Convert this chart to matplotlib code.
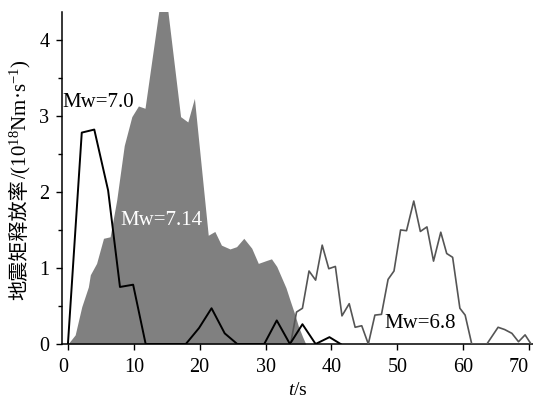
import numpy as np, matplotlib
matplotlib.use('Agg')
import matplotlib.pyplot as plt
from matplotlib.ticker import MultipleLocator

plt.rcParams['font.family'] = ['Liberation Serif', 'Noto Sans CJK SC']
plt.rcParams['mathtext.fontset'] = 'custom'
plt.rcParams['mathtext.rm'] = 'Liberation Serif'
plt.rcParams['mathtext.it'] = 'Liberation Serif:italic'

# ---- data (t in s, moment rate in 1e18 Nm/s) ----
t70 = [0, 2.1, 4.0, 6.1, 7.9, 9.9, 11.8, 17.9, 19.9, 21.8, 23.8, 25.7,
       29.8, 31.7, 33.7, 35.6, 37.6, 39.7, 41.4]
m70 = [0, 2.78, 2.82, 2.02, 0.75, 0.78, 0, 0, 0.21, 0.47, 0.14, 0,
       0, 0.31, 0, 0.26, 0, 0.09, 0]

t714 = [0, 1.1, 2.1, 3.1, 3.4, 4.35, 5.4, 6.4, 7.4, 8.55, 9.7, 10.7, 11.7,
        14.0, 15.0, 17.1, 18.2, 19.2, 21.3, 22.3, 23.3, 24.6, 25.6, 26.7,
        27.9, 28.9, 30.2, 30.9, 31.7, 32.4, 33.1, 33.7, 34.4, 35.0, 35.6, 36.1]
m714 = [0, 0.12, 0.49, 0.75, 0.91, 1.06, 1.39, 1.41, 1.89, 2.61, 2.99, 3.13, 3.10,
        4.5, 4.5, 2.99, 2.92, 3.23, 1.43, 1.48, 1.30, 1.25, 1.28, 1.39,
        1.26, 1.06, 1.10, 1.12, 1.02, 0.88, 0.74, 0.58, 0.40, 0.23, 0.10, 0]

t68 = [33.8, 34.7, 35.6, 36.6, 37.6, 38.6, 39.6, 40.6, 41.6, 42.7, 43.6, 44.6,
       45.6, 46.6, 47.6, 48.6, 49.5, 50.5, 51.4, 52.5, 53.5, 54.5, 55.5, 56.6,
       57.5, 58.4, 59.5, 60.3, 61.3, 63.6, 65.3, 66.3, 67.4, 68.4, 69.4, 70.3]
m68 = [0, 0.42, 0.47, 0.96, 0.84, 1.30, 0.99, 1.02, 0.37, 0.53, 0.22, 0.24,
       0, 0.38, 0.39, 0.85, 0.96, 1.50, 1.49, 1.88, 1.48, 1.54, 1.09, 1.47,
       1.19, 1.14, 0.47, 0.38, 0, 0, 0.22, 0.19, 0.14, 0.03, 0.12, 0]

xticks = [0, 10, 20, 30, 40, 50, 60, 70]

fig = plt.figure(figsize=(5.33, 4.01), dpi=100, facecolor='white')
ax = fig.add_axes([62/533, 57/401, 471/533, 332.3/401])

ax.fill_between(t714, m714, 0, color='#808080', lw=0, zorder=1)
ax.plot(t68, m68, color='#555555', lw=1.2, zorder=3)
ax.plot(t70, m70, color='black', lw=1.4, zorder=4)

ax.text(-0.8, 3.17, 'Mw=7.0', fontsize=15, va='center', ha='left', zorder=5)
ax.text(7.9, 1.63, 'Mw=7.14', fontsize=15, va='center', ha='left', color='white', zorder=5)
ax.text(48.1, 0.27, 'Mw=6.8', fontsize=15, va='center', ha='left', zorder=5)

ax.set_xlim(-0.9, 70.6)
ax.set_ylim(0, 4.37)
ax.set_xticks(xticks)
ax.yaxis.set_major_locator(MultipleLocator(1))
ax.yaxis.set_minor_locator(MultipleLocator(0.5))
ax.tick_params(axis='both', which='both', direction='out', labelsize=14.5)
ax.tick_params(axis='both', which='major', length=4, width=1)
ax.tick_params(axis='y', which='minor', length=3, width=1)
ax.tick_params(axis='x', pad=6)
ax.tick_params(axis='y', pad=5)
for s in ['top', 'right']:
    ax.spines[s].set_visible(False)
for s in ['left', 'bottom']:
    ax.spines[s].set_linewidth(1.1)
# keep the end labels inside the frame, as in the original
xl = ax.get_xticklabels()
xl[0].set_horizontalalignment('right')
xl[-1].set_horizontalalignment('right')

ax.set_xlabel('$t$/s', fontsize=14, labelpad=4)

# y label: Chinese part and the unit part (mathtext) as two joined texts
ylab_cn = fig.text(20/533, 101/401, '地震矩释放率', rotation=90, fontsize=14.5,
                   family='Noto Sans CJK SC', ha='center', va='bottom')
ax.annotate('/(10$^{18}$Nm·s$^{-1}$)', xy=(0.5, 1.0), xycoords=ylab_cn,
            rotation=90, fontsize=15, ha='center', va='bottom')

plt.savefig('out.png', dpi=100, facecolor='white')
